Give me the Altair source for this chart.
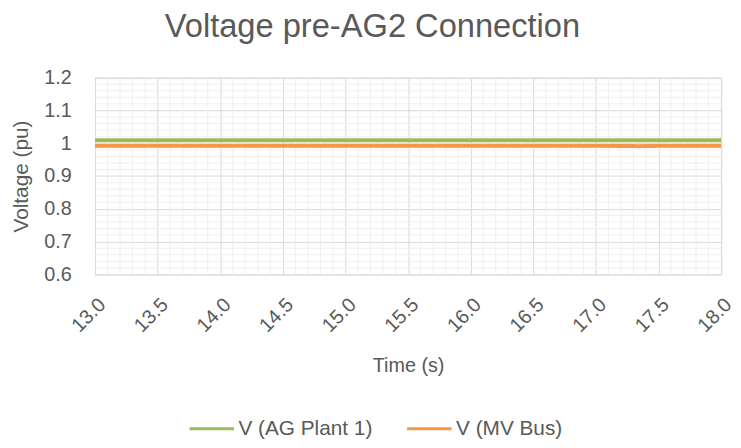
import altair as alt
import pandas as pd
import numpy as np

# Data
time_pts = [13.0, 13.5, 14.0, 14.5, 15.0, 15.5, 16.0, 16.5, 17.0, 17.2, 17.3, 17.35, 17.4, 17.45, 17.5, 17.6, 18.0]
v_ag_plant = [1.009, 1.009, 1.009, 1.009, 1.009, 1.009, 1.009, 1.009, 1.009, 1.009, 1.009, 1.009, 1.009, 1.009, 1.009, 1.009, 1.009]
v_mv_bus = [0.992, 0.992, 0.992, 0.992, 0.992, 0.992, 0.992, 0.992, 0.992, 0.9915, 0.992, 0.991, 0.992, 0.9915, 0.992, 0.992, 0.992]
series_names = ["V (AG Plant 1)", "V (MV Bus)"]
series_colors = ["#9BBB59", "#F79646"]

x_ticks = [13.0, 13.5, 14.0, 14.5, 15.0, 15.5, 16.0, 16.5, 17.0, 17.5, 18.0]
y_ticks = [0.6, 0.7, 0.8, 0.9, 1.0, 1.1, 1.2]

x_minor = [v for v in np.round(np.arange(13.0, 18.0001, 0.1), 2) if round(v * 2, 6) != round(v * 2)]
y_minor = [v for v in np.round(np.arange(0.6, 1.2001, 0.02), 2) if round(v * 10, 6) != round(v * 10)]

df = pd.DataFrame({
    "time": time_pts * 2,
    "voltage": v_ag_plant + v_mv_bus,
    "series": [series_names[0]] * len(time_pts) + [series_names[1]] * len(time_pts),
})

FONT = "Liberation Sans"
GRAY = "#595959"

xscale = alt.Scale(domain=[13.0, 18.0], nice=False, zero=False)
yscale = alt.Scale(domain=[0.6, 1.2], nice=False, zero=False)

xaxis = alt.Axis(title="Time  (s)", values=x_ticks, format=".1f", labelAngle=315,
                 labelAlign="right", labelBaseline="top", labelOverlap=False,
                 grid=True, gridColor="#D9D9D9", ticks=False, domain=False,
                 labelFontSize=20, labelColor=GRAY, labelFont=FONT, labelPadding=20,
                 titleFontSize=20, titleColor=GRAY, titleFont=FONT, titleFontWeight="normal",
                 titlePadding=20)
yaxis = alt.Axis(title="Voltage (pu)", values=y_ticks, format=".2~g", labelOverlap=False,
                 grid=True, gridColor="#D9D9D9", ticks=False, domain=False,
                 labelFontSize=20, labelColor=GRAY, labelFont=FONT, labelPadding=24,
                 titleFontSize=21, titleColor=GRAY, titleFont=FONT, titleFontWeight="normal",
                 titlePadding=12)

xminor = alt.Chart(pd.DataFrame({"time": x_minor})).mark_rule(color="#EFEFEF", strokeWidth=1).encode(
    x=alt.X("time:Q", scale=xscale, axis=xaxis)
)
yminor = alt.Chart(pd.DataFrame({"voltage": y_minor})).mark_rule(color="#EFEFEF", strokeWidth=1).encode(
    y=alt.Y("voltage:Q", scale=yscale, axis=yaxis)
)

lines = alt.Chart(df).mark_line(strokeWidth=4).encode(
    x=alt.X("time:Q", scale=xscale, axis=xaxis),
    y=alt.Y("voltage:Q", scale=yscale, axis=yaxis),
    color=alt.Color("series:N", scale=alt.Scale(domain=series_names, range=series_colors),
                    legend=alt.Legend(title=None, orient="none", legendX=94, legendY=331,
                                      direction="horizontal", symbolType="stroke", symbolSize=2025,
                                      symbolStrokeWidth=3, labelFontSize=21, labelColor=GRAY,
                                      labelFont=FONT, columnPadding=28, labelOffset=3)),
)

chart = alt.layer(xminor, yminor, lines).properties(
    width=633,
    height=199,
    title=alt.TitleParams("Voltage pre-AG2 Connection", fontSize=33, font=FONT, color=GRAY,
                          fontWeight="normal", anchor="middle", offset=24, dx=-36),
    autosize=alt.AutoSizeParams(type="none"),
    padding={"left": 88, "top": 68, "right": 12, "bottom": 172},
).configure_view(stroke=None).configure(background="white")

chart.save("out.html", embed_options={"renderer": "svg", "actions": False})
